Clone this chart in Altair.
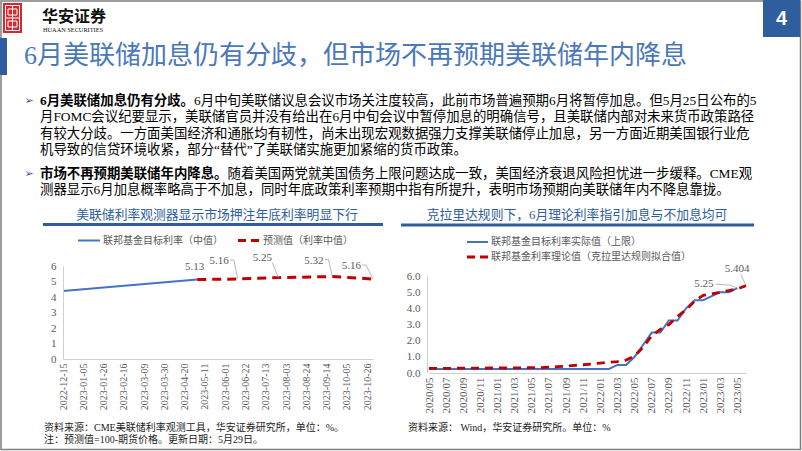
import altair as alt
import pandas as pd

CJK = "Noto Sans CJK SC"
MIX = "Liberation Serif, Noto Sans CJK SC"
SERIF = "Liberation Serif"
GREY = "#595959"
AXIS_GREY = "#d0d0d0"
TITLE_BLUE = "#4a78b9"
DARK_BLUE = "#2e5e9e"
LINE_BLUE = "#4472C4"
LINE_RED = "#C00000"

# ---------------- text content ----------------
header_cn = "华安证券"
header_en = "HUAAN SECURITIES"
page_no = "4"
page_title = "6月美联储加息仍有分歧，但市场不再预期美联储年内降息"
p1_bold = "6月美联储加息仍有分歧。"
p1_lines = [
    "6月中旬美联储议息会议市场关注度较高，此前市场普遍预期6月将暂停加息。但5月25日公布的5",
    "月FOMC会议纪要显示，美联储官员并没有给出在6月中旬会议中暂停加息的明确信号，且美联储内部对未来货币政策路径",
    "有较大分歧。一方面美国经济和通胀均有韧性，尚未出现宏观数据强力支撑美联储停止加息，另一方面近期美国银行业危",
    "机导致的信贷环境收紧，部分“替代”了美联储实施更加紧缩的货币政策。",
]
p2_bold = "市场不再预期美联储年内降息。"
p2_lines = [
    "随着美国两党就美国债务上限问题达成一致，美国经济衰退风险担忧进一步缓释。CME观",
    "测器显示6月加息概率略高于不加息，同时年底政策利率预期中指有所提升，表明市场预期向美联储年内不降息靠拢。",
]
left_title = "美联储利率观测器显示市场押注年底利率明显下行"
left_legend = ["联邦基金目标利率（中值）", "预测值（利率中值）"]
left_source = ["资料来源：CME美联储利率观测工具，华安证券研究所，单位：%。",
               "注：预测值=100-期货价格。更新日期：5月29日。"]
right_title = "克拉里达规则下，6月理论利率指引加息与不加息均可"
right_legend = ["联邦基金目标利率实际值（上限）", "联邦基金利率理论值（克拉里达规则拟合值）"]
right_source = "资料来源： Wind，华安证券研究所。单位：%"

# ---------------- left chart data ----------------
fed_dates = ["2022-12-15", "2023-05-03"]
fed_mid = [4.38, 5.13]
fc_dates = ["2023-05-03", "2023-06-14", "2023-07-26", "2023-09-20", "2023-11-01"]
fc_vals = [5.13, 5.16, 5.25, 5.32, 5.16]
left_ticks = ["2022-12-15", "2023-01-05", "2023-01-26", "2023-02-16", "2023-03-09",
              "2023-03-30", "2023-04-20", "2023-05-11", "2023-06-01", "2023-06-22",
              "2023-07-13", "2023-08-03", "2023-08-24", "2023-09-14", "2023-10-05",
              "2023-10-26"]
left_y_ticks = [0, 1, 2, 3, 4, 5, 6]

# ---------------- right chart data ----------------
months = ["2020/05", "2020/06", "2020/07", "2020/08", "2020/09", "2020/10", "2020/11", "2020/12",
          "2021/01", "2021/02", "2021/03", "2021/04", "2021/05", "2021/06", "2021/07", "2021/08",
          "2021/09", "2021/10", "2021/11", "2021/12", "2022/01", "2022/02", "2022/03", "2022/04",
          "2022/05", "2022/06", "2022/07", "2022/08", "2022/09", "2022/10", "2022/11", "2022/12",
          "2023/01", "2023/02", "2023/03", "2023/04", "2023/05", "2023/06"]
actual_upper = [0.25, 0.25, 0.25, 0.25, 0.25, 0.25, 0.25, 0.25,
                0.25, 0.25, 0.25, 0.25, 0.25, 0.25, 0.25, 0.25,
                0.25, 0.25, 0.25, 0.25, 0.25, 0.25, 0.50, 0.50,
                1.00, 1.75, 2.50, 2.50, 3.25, 3.25, 4.00, 4.50,
                4.50, 4.75, 5.00, 5.00, 5.25]
clarida_fit = [0.28, 0.28, 0.29, 0.29, 0.30, 0.30, 0.30, 0.31,
               0.31, 0.31, 0.32, 0.32, 0.33, 0.33, 0.36, 0.39,
               0.43, 0.47, 0.51, 0.56, 0.61, 0.66, 0.71, 0.80,
               1.05, 1.60, 2.30, 2.70, 3.00, 3.50, 3.90, 4.45,
               4.80, 4.90, 5.00, 5.10, 5.20, 5.404]
right_ticks = months[::2]
right_y_ticks = [0, 1, 2, 3, 4, 5, 6]

W, H = 802, 451


def one():
    return pd.DataFrame({"a": [0]})


def text_layer(s, x, y, size, color="#000000", font=CJK, weight="normal",
               align="left", baseline="middle"):
    return alt.Chart(pd.DataFrame({"t": [s]})).mark_text(
        align=align, baseline=baseline, fontSize=size, font=font,
        fontWeight=weight, color=color
    ).encode(x=alt.value(x), y=alt.value(y), text="t:N")


def hrule(x1, x2, y, color, width, dash=None):
    kw = dict(color=color, strokeWidth=width)
    if dash:
        kw["strokeDash"] = dash
    return alt.Chart(one()).mark_rule(**kw).encode(
        x=alt.value(x1), x2=alt.value(x2), y=alt.value(y))


def vrule(x, y1, y2, color, width):
    return alt.Chart(one()).mark_rule(color=color, strokeWidth=width).encode(
        x=alt.value(x), y=alt.value(y1), y2=alt.value(y2))


def rect(x1, x2, y1, y2, **kw):
    return alt.Chart(one()).mark_rect(**kw).encode(
        x=alt.value(x1), x2=alt.value(x2), y=alt.value(y1), y2=alt.value(y2))


decor = []
# slide frame
decor.append(rect(1, 800.5, 1, 449.5, fillOpacity=0, stroke="#7f7f7f", strokeWidth=1.5))
# logo
decor.append(rect(3, 22, 3, 33, color="#d42a2f"))
decor.append(rect(5.5, 19.5, 5.5, 30.5, fillOpacity=0, stroke="white", strokeWidth=1))
decor.append(hrule(5.5, 19.5, 18, "white", 1))
decor.append(vrule(12.5, 5.5, 30.5, "white", 1))
decor.append(rect(8, 17, 9, 15, fillOpacity=0, stroke="white", strokeWidth=1))
decor.append(rect(8, 17, 21, 27, fillOpacity=0, stroke="white", strokeWidth=1))
decor.append(text_layer(header_cn, 42, 17, 16, color="#111111", weight="bold"))
decor.append(text_layer(header_en, 43, 30, 6.3, color="#111111", font=SERIF))
# page number box
decor.append(rect(763, 800, 0, 37, color=DARK_BLUE))
decor.append(text_layer(page_no, 781.5, 19, 20, color="white", font="Liberation Sans",
                        weight="bold", align="center"))
# title
decor.append(rect(0, 7, 38, 75, color=DARK_BLUE))
decor.append(text_layer(page_title, 24, 56, 26, color=TITLE_BLUE, font=MIX))

# body text
BODY = 13.4
TX = 40
pitch = 16.3
y0 = 101
decor.append(text_layer("➢", 29, y0, 11, color="#3b5b8c", font="DejaVu Sans", align="center"))
decor.append(text_layer(p1_bold, TX, y0, BODY, font=MIX, weight="bold"))
decor.append(text_layer(p1_lines[0], TX + 11.5 * BODY, y0, BODY, font=MIX))
for i, line in enumerate(p1_lines[1:], start=1):
    decor.append(text_layer(line, TX, y0 + i * pitch, BODY, font=MIX))
y1 = 174
decor.append(text_layer("➢", 29, y1, 11, color="#3b5b8c", font="DejaVu Sans", align="center"))
decor.append(text_layer(p2_bold, TX, y1, BODY, font=MIX, weight="bold"))
decor.append(text_layer(p2_lines[0], TX + 14 * BODY, y1, BODY, font=MIX))
decor.append(text_layer(p2_lines[1], TX, y1 + pitch, BODY, font=MIX))

# chart headers
decor.append(text_layer(left_title, 217, 215, 12.8, color=DARK_BLUE, font=MIX, align="center"))
decor.append(hrule(43, 383, 224.5, DARK_BLUE, 3))
decor.append(text_layer(right_title, 577, 215, 12.8, color=DARK_BLUE, font=MIX, align="center"))
decor.append(hrule(401, 754, 225, DARK_BLUE, 3))

# legends
decor.append(hrule(78, 100, 240.5, LINE_BLUE, 2))
decor.append(text_layer(left_legend[0], 103, 240.5, 10, color=GREY, font=MIX))
decor.append(hrule(238, 259, 240.5, LINE_RED, 3, [8, 5]))
decor.append(text_layer(left_legend[1], 263, 240.5, 10, color=GREY, font=MIX))
decor.append(hrule(467, 488, 242, LINE_BLUE, 2))
decor.append(text_layer(right_legend[0], 491, 242, 10, color=GREY, font=MIX))
decor.append(hrule(467, 489, 257, LINE_RED, 3, [8, 5]))
decor.append(text_layer(right_legend[1], 491, 257, 10, color=GREY, font=MIX))

# sources
decor.append(text_layer(left_source[0], 44, 428, 10, color="#222222", font=MIX))
decor.append(text_layer(left_source[1], 44, 439.5, 10, color="#222222", font=MIX))
decor.append(text_layer(right_source, 408, 428, 10, color="#222222", font=MIX))


# ---------------- left plot ----------------
def dt(s):
    y, m, d = (int(v) for v in s.split("-"))
    return alt.DateTime(year=y, month=m, date=d, utc=True)


lx_scale = alt.Scale(type="utc", domain=[dt("2022-12-15"), dt("2023-11-01")], range=[63, 373])
ly_scale = alt.Scale(domain=[0, 6], range=[359, 266], nice=False, zero=False)
lx_axis = alt.Axis(orient="bottom", offset=359 - H, values=[dt(s) for s in left_ticks],
                   format="%Y-%m-%d", labelAngle=270, labelFont=SERIF, labelFontSize=10,
                   labelColor=GREY, labelPadding=4, labelOverlap=False, labelFlush=False,
                   ticks=False, grid=False, domainColor=AXIS_GREY, zindex=1)
ly_axis = alt.Axis(orient="left", offset=-63, values=left_y_ticks, format="d",
                   labelFont=SERIF, labelFontSize=11, labelColor=GREY, labelPadding=7,
                   ticks=False, grid=False, domainColor=AXIS_GREY,
                   labelFlush=False, zindex=1)

fed_df = pd.DataFrame({"date": fed_dates, "rate": fed_mid})
fc_df = pd.DataFrame({"date": fc_dates, "rate": fc_vals,
                      "label": [f"{v:.2f}" for v in fc_vals]})

LX = alt.X("date:T", scale=lx_scale, axis=lx_axis, title=None)
LY = alt.Y("rate:Q", scale=ly_scale, axis=ly_axis, title=None)
LXn = alt.X("date:T", scale=lx_scale, axis=None)
LYn = alt.Y("rate:Q", scale=ly_scale, axis=None)

left_layers = [
    alt.Chart(fed_df).mark_line(color=LINE_BLUE, strokeWidth=2).encode(x=LX, y=LY),
    alt.Chart(fc_df).mark_line(color=LINE_RED, strokeWidth=3, strokeDash=[9, 6]).encode(x=LXn, y=LYn),
]
# label callouts: (text dx, text dy, elbow dx, elbow dy, leader end dx)
left_callouts = [
    (-2.5, -12.5, None, None, None),
    (-9, -18, -4, -19, -8),
    (-16, -20, -6, -15, -6),
    (-9, -16, -4, -17, -8),
    (-12, -13, -7, -14, -11),
]
for i, (tdx, tdy, ex, ey, hx) in enumerate(left_callouts):
    row = fc_df.iloc[[i]]
    align = "center" if ex is None or i == 2 else "right"
    left_layers.append(
        alt.Chart(row).mark_text(align=align, baseline="middle", dx=tdx, dy=tdy,
                                 font=SERIF, fontSize=11, color=GREY)
        .encode(x=LXn, y=LYn, text="label:N"))
    if ex is not None:
        left_layers.append(
            alt.Chart(row).mark_rule(color="#a6a6a6", strokeWidth=0.8,
                                     x2Offset=ex, y2Offset=ey)
            .encode(x=LXn, y=LYn, x2=alt.X2("date"), y2=alt.Y2("rate")))
        if hx != ex:
            left_layers.append(
                alt.Chart(row).mark_rule(color="#a6a6a6", strokeWidth=0.8,
                                         xOffset=ex, yOffset=ey, x2Offset=hx, y2Offset=ey)
                .encode(x=LXn, y=LYn, x2=alt.X2("date"), y2=alt.Y2("rate")))

# ---------------- right plot ----------------
rx_scale = alt.Scale(type="point", domain=months, range=[429, 746], padding=0)
ry_scale = alt.Scale(domain=[0, 6], range=[373, 276], nice=False, zero=False)
rx_axis = alt.Axis(orient="bottom", offset=373 - H, values=right_ticks, labelAngle=270,
                   labelFont=SERIF, labelFontSize=11, labelColor=GREY, labelPadding=4,
                   labelOverlap=False, labelFlush=False, ticks=False,
                   grid=False, domainColor=AXIS_GREY, zindex=1)
ry_axis = alt.Axis(orient="left", offset=-427, values=right_y_ticks, format=".1f",
                   labelFont=SERIF, labelFontSize=11, labelColor=GREY, labelPadding=7,
                   ticks=False, grid=False, domainColor=AXIS_GREY,
                   labelFlush=False, zindex=1)

act_df = pd.DataFrame({"month": months[:len(actual_upper)], "rate": actual_upper})
fit_df = pd.DataFrame({"month": months, "rate": clarida_fit})

RX = alt.X("month:O", scale=rx_scale, axis=rx_axis, title=None)
RY = alt.Y("rate:Q", scale=ry_scale, axis=ry_axis, title=None)
RXn = alt.X("month:O", scale=rx_scale, axis=None)
RYn = alt.Y("rate:Q", scale=ry_scale, axis=None)

act_last = act_df.iloc[[-1]].assign(label=[f"{actual_upper[-1]:.2f}"])
fit_last = fit_df.iloc[[-1]].assign(label=[f"{clarida_fit[-1]:.3f}"])

right_layers = [
    alt.Chart(act_df).mark_line(color=LINE_BLUE, strokeWidth=2).encode(x=RX, y=RY),
    alt.Chart(fit_df).mark_line(color=LINE_RED, strokeWidth=2.8, strokeDash=[8, 6]).encode(x=RXn, y=RYn),
    alt.Chart(act_last).mark_text(align="right", baseline="middle", dx=-24, dy=-4,
                                  font=SERIF, fontSize=11, color=GREY)
    .encode(x=RXn, y=RYn, text="label:N"),
    alt.Chart(act_last).mark_rule(color="#a6a6a6", strokeWidth=0.8, x2Offset=-7, y2Offset=-3)
    .encode(x=RXn, y=RYn, x2=alt.X2("month"), y2=alt.Y2("rate")),
    alt.Chart(act_last).mark_rule(color="#a6a6a6", strokeWidth=0.8, xOffset=-7, yOffset=-3,
                                  x2Offset=-22, y2Offset=-4)
    .encode(x=RXn, y=RYn, x2=alt.X2("month"), y2=alt.Y2("rate")),
    alt.Chart(fit_last).mark_text(align="center", baseline="middle", dx=-9, dy=-17,
                                  font=SERIF, fontSize=11, color=GREY)
    .encode(x=RXn, y=RYn, text="label:N"),
    alt.Chart(fit_last).mark_rule(color="#a6a6a6", strokeWidth=0.8, x2Offset=-5, y2Offset=-11)
    .encode(x=RXn, y=RYn, x2=alt.X2("month"), y2=alt.Y2("rate")),
]

chart = alt.layer(*decor, *left_layers, *right_layers).resolve_scale(
    x="independent", y="independent"
).resolve_axis(
    x="independent", y="independent"
).properties(
    width=W, height=H, autosize=alt.AutoSizeParams(type="none"), padding=0
).configure_view(strokeWidth=0)

chart.save("out.html", embed_options={"renderer": "svg", "actions": False})
